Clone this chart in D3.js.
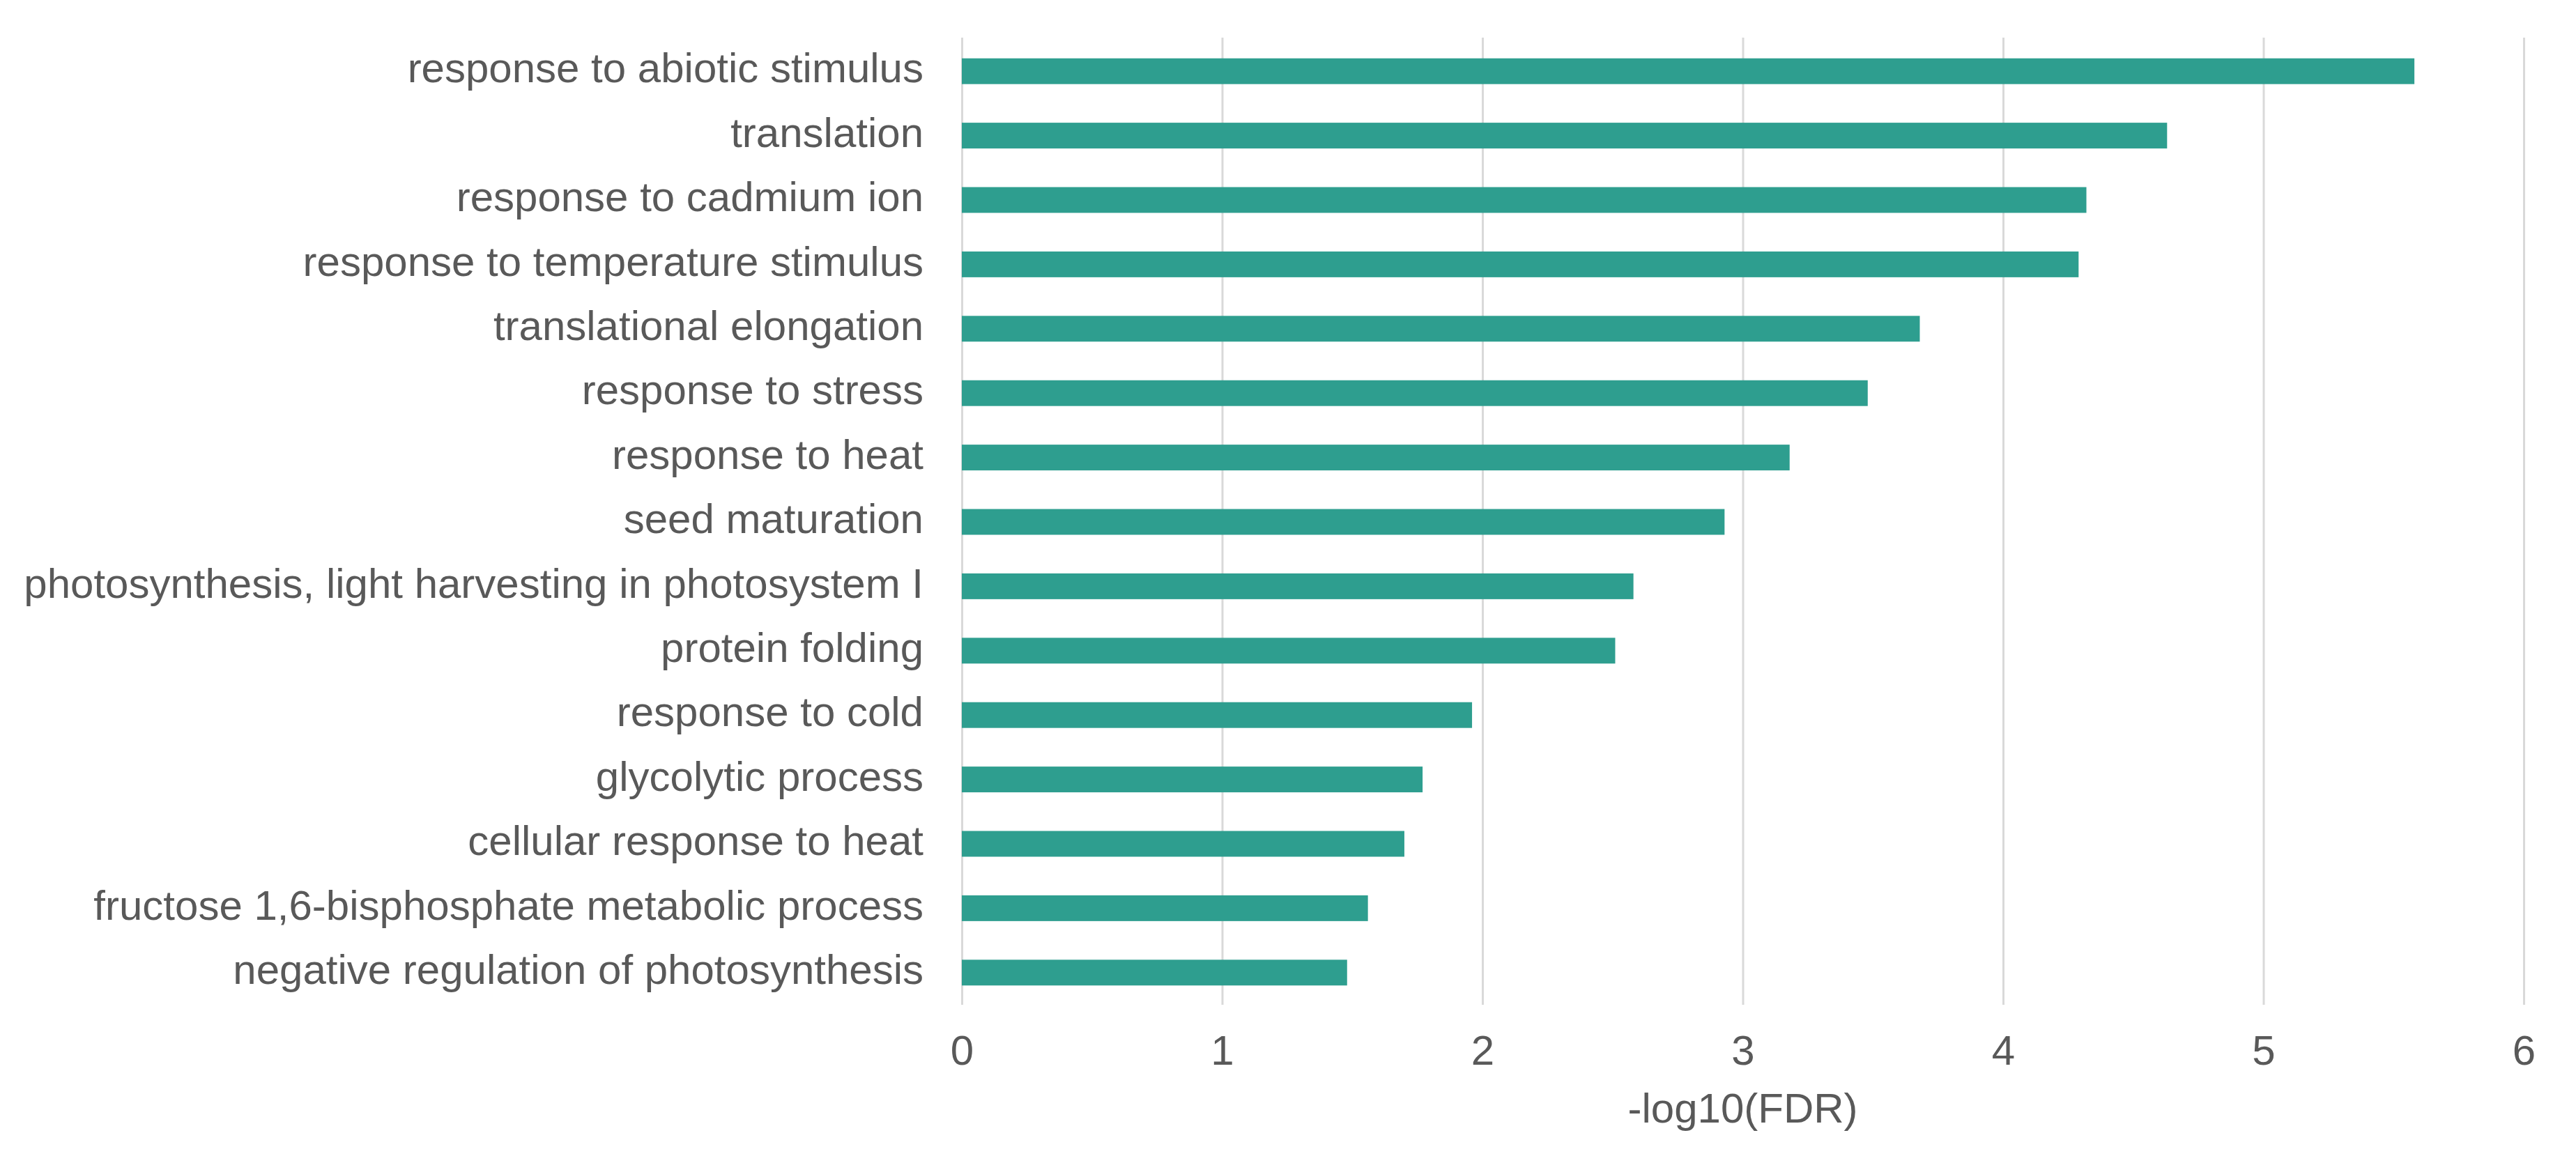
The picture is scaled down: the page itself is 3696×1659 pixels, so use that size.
<!DOCTYPE html>
<html>
<head>
<meta charset="utf-8">
<script src="https://cdn.jsdelivr.net/npm/d3@7"></script>
<style>
  body { margin: 0; background: #fff; }
  svg text { font-family: "Liberation Sans", Arial, sans-serif; fill: #595959; }
</style>
</head>
<body>
<svg id="chart" width="3696" height="1659"></svg>
<script>
// GO terms, top to bottom
const terms = [
  "response to abiotic stimulus",
  "translation",
  "response to cadmium ion",
  "response to temperature stimulus",
  "translational elongation",
  "response to stress",
  "response to heat",
  "seed maturation",
  "photosynthesis, light harvesting in photosystem I",
  "protein folding",
  "response to cold",
  "glycolytic process",
  "cellular response to heat",
  "fructose 1,6-bisphosphate metabolic process",
  "negative regulation of photosynthesis"
];
// -log10(FDR)
const logFDR = [5.58, 4.63, 4.32, 4.29, 3.68, 3.48, 3.18, 2.93, 2.58, 2.51, 1.96, 1.77, 1.70, 1.56, 1.48];
const xTicks = [0, 1, 2, 3, 4, 5, 6];
const xTitle = "-log10(FDR)";

const svg = d3.select('#chart');
const plotLeft = 1380, plotRight = 3621, plotTop = 56, plotBottom = 1442;

const x = d3.scaleLinear().domain([0, 6]).range([plotLeft, plotRight]);
const y = d3.scaleBand().domain(terms).range([plotTop, plotBottom]).paddingInner(0.6).paddingOuter(0.3);

// grid + tick labels
const gx = svg.append('g')
  .attr('transform', `translate(0,${plotBottom})`)
  .call(d3.axisBottom(x).tickValues(xTicks).tickFormat(d3.format('d'))
    .tickSize(-(plotBottom - 54)).tickPadding(43));
gx.select('.domain').remove();
gx.selectAll('.tick line').attr('stroke', '#d9d9d9').attr('stroke-width', 3);
gx.selectAll('.tick text').attr('font-size', 60).style('fill', '#595959');

// bars
svg.append('g').selectAll('rect')
  .data(terms.map((t, i) => ({term: t, v: logFDR[i]})))
  .join('rect')
  .attr('x', x(0))
  .attr('y', d => y(d.term))
  .attr('width', d => x(d.v) - x(0))
  .attr('height', y.bandwidth())
  .attr('fill', '#2E9E8F');

// category labels
const gy = svg.append('g')
  .attr('transform', `translate(${plotLeft},0)`)
  .call(d3.axisLeft(y).tickSize(0).tickPadding(55));
gy.select('.domain').remove();
gy.selectAll('.tick text').attr('font-size', 60).attr('dy', '0.27em').style('fill', '#595959');

// axis title
svg.append('text')
  .attr('x', (plotLeft + plotRight) / 2)
  .attr('y', 1611)
  .attr('text-anchor', 'middle')
  .attr('font-size', 60)
  .text(xTitle);
</script>
</body>
</html>
